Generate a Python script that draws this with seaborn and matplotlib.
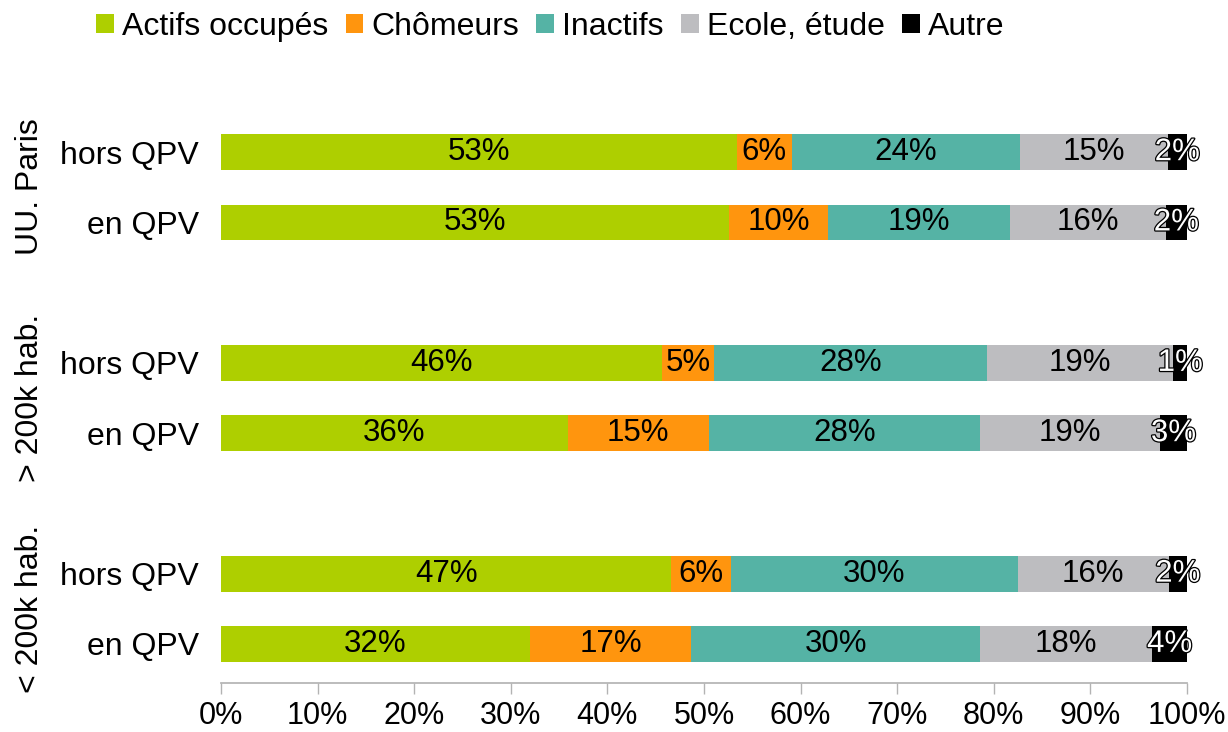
import numpy as np
import pandas as pd
import matplotlib.pyplot as plt
import matplotlib.patheffects as pe
import seaborn as sns

rows = ["hors QPV", "en QPV", "hors QPV", "en QPV", "hors QPV", "en QPV"]
groups = ["UU. Paris", "> 200k hab.", "< 200k hab."]
categories = ["Actifs occupés", "Chômeurs", "Inactifs", "Ecole, étude", "Autre"]
actifs = [53.4, 52.6, 45.7, 35.9, 46.6, 32.0]
chomeurs = [5.7, 10.2, 5.3, 14.6, 6.2, 16.7]
inactifs = [23.6, 18.9, 28.3, 28.1, 29.7, 29.9]
ecole = [15.3, 16.1, 19.3, 18.6, 15.6, 17.8]
autre = [2.0, 2.2, 1.4, 2.8, 1.9, 3.6]
colors = ["#aecf00", "#ff950e", "#55b3a5", "#bdbdc0", "#000000"]

sns.set_theme(style="white")
plt.rcParams["font.family"] = ["Liberation Sans", "DejaVu Sans"]
plt.rcParams["text.color"] = "black"
plt.rcParams["xtick.color"] = "black"
plt.rcParams["ytick.color"] = "black"

pos = [0, 1, 3, 4, 6, 7]
series = [actifs, chomeurs, inactifs, ecole, autre]
vals = np.array(series)
cum = vals.cumsum(axis=0)

fig = plt.figure(figsize=(12.28, 7.32), dpi=100)
ax = fig.add_axes([0.18, 0.0669, 0.7866, 0.7965])

# draw cumulative totals from the end so each segment sits on top
for i in range(len(categories) - 1, -1, -1):
    df = pd.DataFrame({"pos": pos, "val": cum[i]})
    sns.barplot(data=df, x="val", y="pos", orient="h", native_scale=True,
                color=colors[i], width=0.51, saturation=1, ax=ax,
                linewidth=0, label=categories[i])

# labels
for i in range(len(categories)):
    for j, p in enumerate(pos):
        center = cum[i][j] - vals[i][j] / 2
        txt = f"{vals[i][j]:.0f}%"
        if i == 4:
            ax.text(center, p, txt, ha="center", va="center", fontsize=22.5,
                    color="white",
                    path_effects=[pe.withStroke(linewidth=1.8, foreground="black")])
        else:
            ax.text(center, p, txt, ha="center", va="center", fontsize=22.5,
                    color="black")

ax.set_xlim(0, 100)
ax.set_ylim(7.557, -0.743)
ax.set_xticks(range(0, 101, 10))
ax.set_xticklabels([f"{t}%" for t in range(0, 101, 10)], fontsize=22)
ax.set_yticks(pos)
ax.set_yticklabels(rows, fontsize=23)
ax.tick_params(axis="y", length=0, pad=16)
ax.tick_params(axis="x", length=8, width=1, color="#b3b3b3", pad=5, bottom=True)
ax.set_xlabel("")
ax.set_ylabel("")
for s in ["top", "right", "left"]:
    ax.spines[s].set_visible(False)
ax.spines["bottom"].set_color("#b3b3b3")
ax.grid(False)

for g, yc in zip(groups, [187, 398, 609]):
    fig.text(30 / 1228, 1 - yc / 732, g, rotation=90, ha="center", va="center",
             fontsize=23)

handles, labels = ax.get_legend_handles_labels()
order = [labels.index(c) for c in categories]
leg = fig.legend([handles[k] for k in order], categories, loc="center",
                 bbox_to_anchor=(0.448, 1 - 27 / 732), ncol=5, frameon=False,
                 fontsize=23, handlelength=0.55, handleheight=0.55,
                 handletextpad=0.25, columnspacing=0.55)
if ax.get_legend():
    ax.get_legend().remove()

fig.savefig("out.png", dpi=100)
